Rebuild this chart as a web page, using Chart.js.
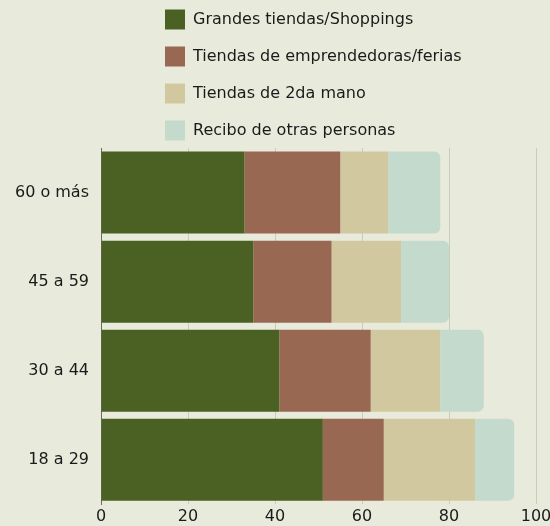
<!DOCTYPE html>
<html>
<head>
<meta charset="utf-8">
<script src="https://cdn.jsdelivr.net/npm/chart.js@4.4.1/dist/chart.umd.min.js"></script>
<style>
  html, body { margin: 0; padding: 0; background: #e8ebdc; }
  #wrap { width: 550px; height: 526px; position: relative; }
</style>
</head>
<body>
<div id="wrap"><canvas id="c"></canvas></div>
<script>
// ---- data ----
const categories = ["60 o más", "45 a 59", "30 a 44", "18 a 29"];
const seriesNames = ["Grandes tiendas/Shoppings", "Tiendas de emprendedoras/ferias", "Tiendas de 2da mano", "Recibo de otras personas"];
const grandesTiendas = [33, 35, 41, 51];
const emprendedoras = [22, 18, 21, 14];
const segundaMano = [11, 16, 16, 21];
const otrasPersonas = [12, 11, 10, 9];
const xTicks = [0, 20, 40, 60, 80, 100];

const colors = ["#4b6124", "#996852", "#d2c8a0", "#c4dacd"];
const FONT = "'DejaVu Sans', 'Open Sans', sans-serif";

// legend laid out as a single column
const columnLegend = {
  id: 'columnLegend',
  afterInit(chart) {
    const lg = chart.legend;
    if (!lg) return;
    const fit = lg.fit.bind(lg);
    lg.fit = function () {
      const mw = this.maxWidth;
      this.maxWidth = 330;
      fit();
      this.maxWidth = mw;
      this.width = mw;
      this.height = 148;
    };
    const draw = lg.draw.bind(lg);
    lg.draw = function () {
      const l = this.left, r = this.right, t = this.top;
      this.left = 148; this.right = 148 + 330; this.top = t - 7.5;
      draw();
      this.left = l; this.right = r; this.top = t;
    };
  }
};

const seriesValues = [grandesTiendas, emprendedoras, segundaMano, otrasPersonas];
const datasets = seriesNames.map((name, i) => ({
  label: name,
  data: seriesValues[i],
  backgroundColor: colors[i],
  borderWidth: 0,
  borderRadius: i === seriesNames.length - 1 ? 6 : 0,
  borderSkipped: 'start',
  categoryPercentage: 1,
  barPercentage: 0.92
}));

new Chart(document.getElementById('c'), {
  type: 'bar',
  data: { labels: categories, datasets },
  plugins: [columnLegend],
  options: {
    indexAxis: 'y',
    responsive: true,
    maintainAspectRatio: false,
    animation: false,
    layout: { padding: { top: 0, right: 14, bottom: 0, left: 0 } },
    plugins: {
      tooltip: { enabled: false },
      legend: {
        position: 'top',
        align: 'start',
        labels: {
          boxWidth: 20,
          boxHeight: 20,
          padding: 17,
          color: '#1a1a1a',
          font: { family: FONT, size: 16 }
        }
      }
    },
    scales: {
      x: {
        stacked: true,
        min: 0,
        max: 100,
        afterBuildTicks(scale) { scale.ticks = xTicks.map(v => ({ value: v })); },
        afterFit(scale) { scale.height = 21.5; scale.paddingLeft = 0; scale.paddingRight = 0; },
        grid: { color: '#c9cbbb', lineWidth: 1, drawTicks: false },
        border: { display: false },
        ticks: { color: '#1a1a1a', padding: 3, font: { family: FONT, size: 16 } }
      },
      y: {
        stacked: true,
        afterFit(scale) { scale.width = 101; },
        grid: { display: false, drawTicks: false },
        border: { display: true, color: '#6b6b5e', width: 1 },
        ticks: { color: '#1a1a1a', padding: 12, font: { family: FONT, size: 16 } }
      }
    }
  }
});
</script>
</body>
</html>
